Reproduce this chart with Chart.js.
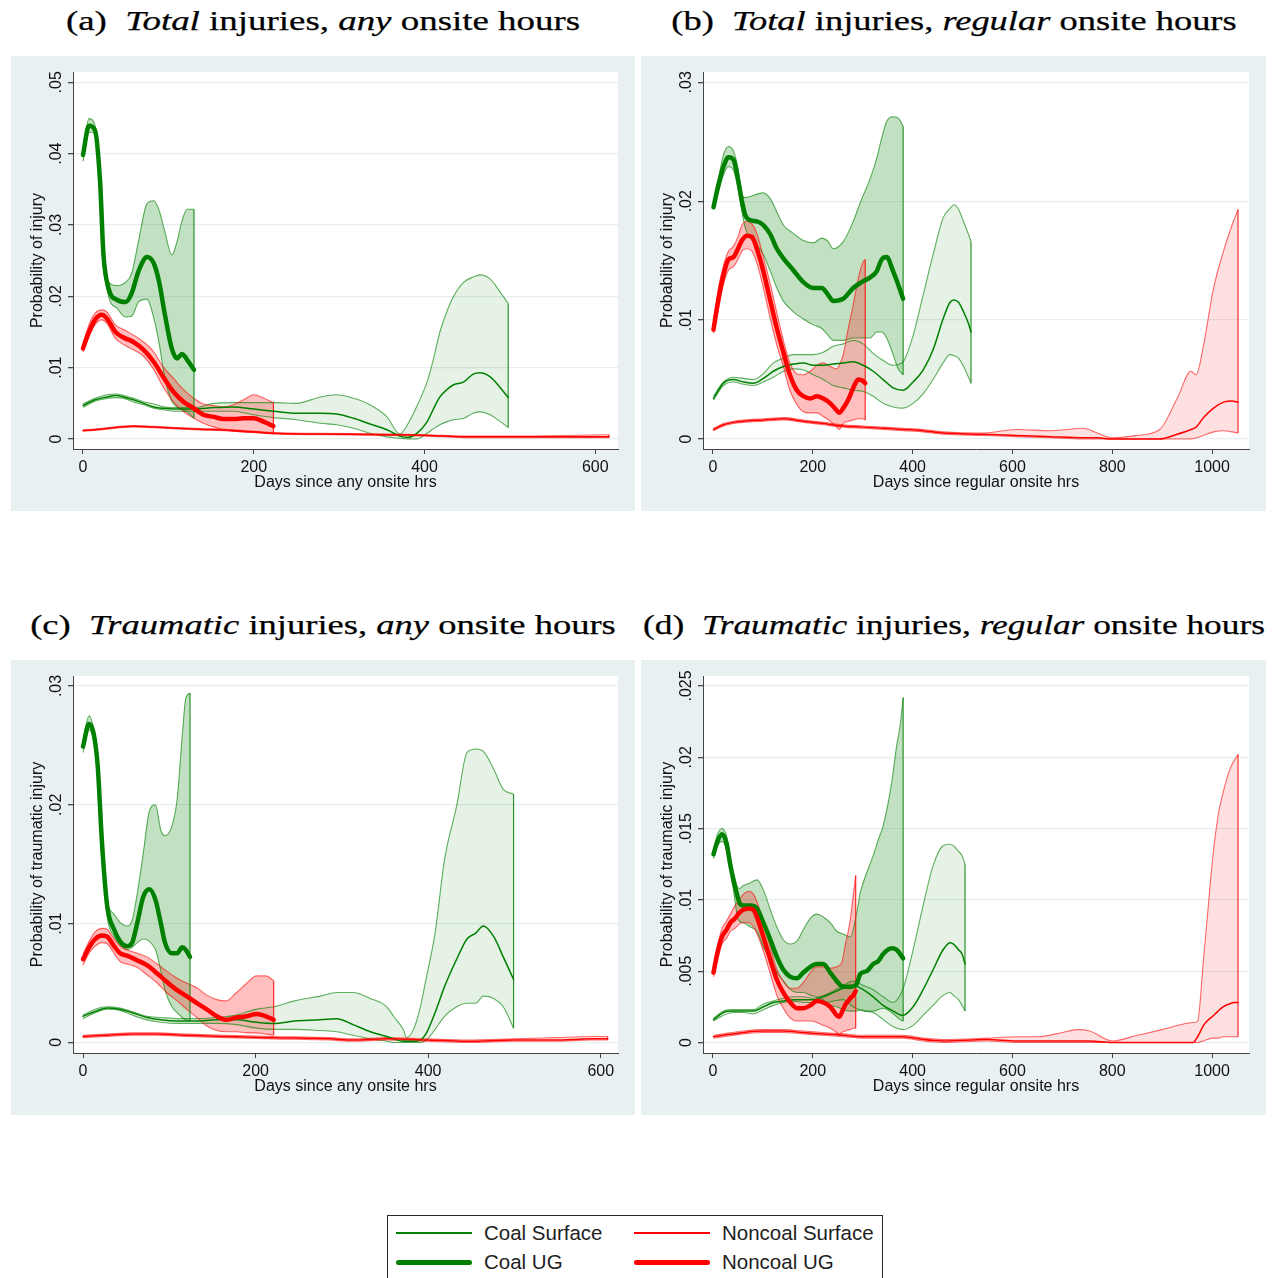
<!DOCTYPE html>
<html>
<head>
<meta charset="utf-8">
<script src="https://cdn.jsdelivr.net/npm/chart.js@4.4.1/dist/chart.umd.min.js"></script>
<style>
  html, body { margin: 0; padding: 0; }
  body { width: 1272px; height: 1278px; background: #ffffff; position: relative; overflow: hidden;
         font-family: 'Liberation Sans', Arial, Helvetica, sans-serif; }
  canvas.panel { position: absolute; background: #e9f0f2; }
  .ttl { position: absolute; white-space: nowrap; color: #000; line-height: 1;
         font-family: 'Liberation Serif', 'Times New Roman', serif; font-size: 28px;
         -webkit-text-stroke: 0.25px #000;
         transform: translate(-50%, -50%); transform-origin: 50% 50%; }
  #legend { position: absolute; left: 387px; top: 1215px; width: 496px; height: 80px;
            border: 1.5px solid #2a2a2a; background: #fff; box-sizing: border-box; }
  #legend .sw { position: absolute; }
  #legend .lab { position: absolute; font-size: 20.5px; color: #1e1e1e; line-height: 1; transform: translateY(-50%); white-space: nowrap; }
</style>
</head>
<body>

<div class="ttl" data-w="514" style="left:323px; top:21px;">(a)&nbsp; <i>Total</i> injuries, <i>any</i> onsite hours</div>
<div class="ttl" data-w="565" style="left:954px; top:21px;">(b)&nbsp; <i>Total</i> injuries, <i>regular</i> onsite hours</div>
<div class="ttl" data-w="586" style="left:323px; top:625px;">(c)&nbsp; <i>Traumatic</i> injuries, <i>any</i> onsite hours</div>
<div class="ttl" data-w="622" style="left:954px; top:625px;">(d)&nbsp; <i>Traumatic</i> injuries, <i>regular</i> onsite hours</div>

<canvas id="chartA" class="panel" width="624" height="455" style="left:11px; top:56px;"></canvas>
<canvas id="chartB" class="panel" width="625" height="455" style="left:641px; top:56px;"></canvas>
<canvas id="chartC" class="panel" width="624" height="455" style="left:11px; top:660px;"></canvas>
<canvas id="chartD" class="panel" width="625" height="455" style="left:641px; top:660px;"></canvas>

<div id="legend"></div>

<script>
// ---------- axis ticks and labels ----------
const xTicksAny = [0, 200, 400, 600];
const xTicksRegular = [0, 200, 400, 600, 800, 1000];
const yTicksA = [0, 0.01, 0.02, 0.03, 0.04, 0.05];
const yTicksB = [0, 0.01, 0.02, 0.03];
const yTicksC = [0, 0.01, 0.02, 0.03];
const yTicksD = [0, 0.005, 0.01, 0.015, 0.02, 0.025];
const xTitleAny = 'Days since any onsite hrs';
const xTitleRegular = 'Days since regular onsite hrs';
const yTitleTotal = 'Probability of injury';
const yTitleTraumatic = 'Probability of traumatic injury';
const seriesNames = ['Coal Surface', 'Coal UG', 'Noncoal Surface', 'Noncoal UG'];

// ---------- (a) total injuries, any onsite hours ----------
const aCoalSurfDays = [0,14,28,38,48,59,71,83,94,106,118,130,153,176,200,223,250,278,297,317,336,356,371,380,391,403,410,418,426,434,446,457,465,477,488,498];
const aCoalSurfMean = [.0047,.0055,.0059,.0061,.0059,.0055,.0050,.0045,.0043,.0042,.0042,.0042,.0044,.0045,.0042,.0039,.0036,.0036,.0035,.0029,.0021,.0013,.0004,.0002,.0008,.0024,.0041,.0059,.0069,.0076,.0080,.0091,.0093,.0087,.0073,.0058];
const aCoalSurfLow  = [.0044,.0053,.0057,.0058,.0057,.0052,.0048,.0043,.0041,.0039,.0039,.0039,.0039,.0039,.0034,.0030,.0027,.0022,.0020,.0015,.0008,.0003,.0001,.0000,.0000,.0008,.0014,.0020,.0024,.0027,.0029,.0036,.0038,.0034,.0025,.0016];
const aCoalSurfHigh = [.0049,.0057,.0062,.0063,.0061,.0057,.0052,.0049,.0045,.0044,.0044,.0044,.0050,.0051,.0051,.0051,.0050,.0059,.0062,.0057,.0048,.0031,.0007,.0020,.0046,.0080,.0110,.0150,.0178,.0200,.0220,.0227,.0230,.0224,.0207,.0190];

const aCoalUGDays = [0,7,14,20,24,30,40,50,57,65,75,83,89,96,104,110,116,122,130];
const aCoalUGMean = [.0398,.0439,.0433,.0361,.0258,.0211,.0195,.0192,.0204,.0235,.0255,.0246,.0221,.0174,.0127,.0113,.0119,.0111,.0097];
const aCoalUGLow  = [.0389,.0430,.0428,.0350,.0249,.0200,.0183,.0171,.0172,.0192,.0196,.0169,.0135,.0085,.0053,.0045,.0041,.0038,.0029];
const aCoalUGHigh = [.0402,.0449,.0440,.0365,.0267,.0220,.0215,.0220,.0232,.0277,.0330,.0334,.0321,.0290,.0258,.0276,.0306,.0322,.0322];

const aNoncoalSurfDays = [0,14,38,59,94,130,176,223,278,356,403,446,500,560,616];
const aNoncoalSurfMean = [.0012,.0013,.0016,.0018,.0016,.0014,.0012,.0008,.0007,.0006,.0005,.0003,.0003,.0003,.0003];
const aNoncoalSurfLow  = [.0011,.0012,.0015,.0017,.0015,.0013,.0011,.0007,.0006,.0005,.0004,.0002,.0002,.0002,.0002];
const aNoncoalSurfHigh = [.0013,.0014,.0017,.0019,.0017,.0015,.0013,.0009,.0008,.0007,.0006,.0004,.0004,.0005,.0006];

const aNoncoalUGDays = [0,7,14,22,28,38,48,59,71,83,94,106,118,130,141,153,165,176,188,200,212,223];
const aNoncoalUGMean = [.0127,.0150,.0167,.0174,.0169,.0150,.0142,.0136,.0125,.0108,.0087,.0066,.0052,.0043,.0034,.0031,.0028,.0028,.0029,.0029,.0024,.0018];
const aNoncoalUGLow  = [.0122,.0143,.0160,.0167,.0162,.0141,.0132,.0125,.0116,.0097,.0073,.0052,.0038,.0029,.0022,.0017,.0013,.0011,.0010,.0010,.0009,.0007];
const aNoncoalUGHigh = [.0134,.0160,.0176,.0181,.0178,.0160,.0153,.0146,.0136,.0122,.0101,.0085,.0069,.0057,.0049,.0047,.0045,.0048,.0055,.0062,.0057,.0051];

// ---------- (b) total injuries, regular onsite hours ----------
const bCoalSurfDays = [1,21,41,61,81,101,121,141,161,181,201,221,241,261,281,301,321,341,361,381,401,421,441,461,475,483,492,502,512,517];
const bCoalSurfMean = [.0034,.0047,.0050,.0048,.0047,.0051,.0057,.0061,.0063,.0064,.0062,.0062,.0063,.0064,.0065,.0062,.0057,.0050,.0043,.0041,.0048,.0058,.0075,.0101,.0115,.0117,.0115,.0107,.0097,.0090];
const bCoalSurfLow  = [.0033,.0045,.0048,.0046,.0045,.0048,.0052,.0057,.0059,.0058,.0054,.0050,.0045,.0043,.0041,.0040,.0036,.0030,.0027,.0026,.0030,.0038,.0050,.0064,.0071,.0070,.0068,.0061,.0052,.0047];
const bCoalSurfHigh = [.0036,.0048,.0052,.0051,.0050,.0055,.0064,.0068,.0071,.0071,.0071,.0073,.0078,.0080,.0083,.0080,.0072,.0066,.0062,.0065,.0087,.0121,.0155,.0186,.0194,.0197,.0193,.0183,.0172,.0166];

const bCoalUGDays = [1,11,21,31,41,50,58,65,75,88,101,115,128,141,161,181,201,218,231,241,261,281,298,315,328,338,348,361,371,381];
const bCoalUGMean = [.0195,.0214,.0229,.0237,.0235,.0219,.0200,.0188,.0184,.0183,.0180,.0172,.0160,.0152,.0142,.0132,.0127,.0127,.0121,.0116,.0118,.0127,.0132,.0136,.0141,.0151,.0153,.0141,.0130,.0118];
const bCoalUGLow  = [.0193,.0208,.0222,.0229,.0226,.0211,.0191,.0177,.0169,.0163,.0155,.0141,.0127,.0116,.0107,.0101,.0096,.0093,.0087,.0083,.0083,.0085,.0085,.0085,.0090,.0090,.0085,.0071,.0059,.0054];
const bCoalUGHigh = [.0198,.0219,.0239,.0246,.0242,.0228,.0205,.0203,.0204,.0206,.0207,.0202,.0191,.0180,.0173,.0167,.0165,.0169,.0166,.0160,.0166,.0183,.0202,.0219,.0236,.0253,.0267,.0271,.0270,.0263];

const bNoncoalSurfDays = [1,21,41,61,101,141,181,221,261,301,341,381,421,461,542,608,675,742,770,800,850,895,930,958,968,983,1003,1023,1040,1052];
const bNoncoalSurfMean = [.0008,.0012,.0014,.0015,.0016,.0017,.0015,.0013,.0011,.0010,.0009,.0008,.0007,.0005,.0004,.0003,.0002,.0001,.0001,0,0,0,.0004,.0008,.0010,.0018,.0026,.0031,.0032,.0031];
const bNoncoalSurfLow  = [.0007,.0011,.0013,.0014,.0015,.0016,.0014,.0012,.0010,.0009,.0008,.0007,.0006,.0004,.0003,.0002,.0001,0,0,0,0,0,0,0,.0001,.0003,.0006,.0007,.0006,.0005];
const bNoncoalSurfHigh = [.0009,.0013,.0015,.0016,.0017,.0018,.0016,.0014,.0012,.0011,.0010,.0009,.0008,.0006,.0005,.0008,.0007,.0009,.0005,.0001,.0003,.0008,.0034,.0057,.0054,.0079,.0127,.0158,.0180,.0193];

const bNoncoalUGDays = [1,11,21,31,41,50,58,68,78,88,101,115,128,141,154,168,181,195,208,221,235,248,253,261,271,281,291,300,305];
const bNoncoalUGMean = [.0092,.0118,.0138,.0151,.0153,.0160,.0167,.0171,.0170,.0160,.0141,.0116,.0093,.0073,.0054,.0041,.0036,.0034,.0036,.0034,.0030,.0024,.0022,.0026,.0033,.0043,.0050,.0049,.0047];
const bNoncoalUGLow  = [.0089,.0110,.0130,.0142,.0145,.0151,.0158,.0160,.0158,.0148,.0127,.0101,.0079,.0061,.0041,.0029,.0023,.0022,.0022,.0019,.0015,.0010,.0008,.0013,.0015,.0016,.0017,.0017,.0016];
const bNoncoalUGHigh = [.0094,.0127,.0146,.0158,.0162,.0170,.0180,.0183,.0181,.0173,.0153,.0130,.0106,.0083,.0064,.0055,.0054,.0057,.0062,.0064,.0061,.0059,.0062,.0071,.0093,.0113,.0135,.0148,.0151];

// ---------- (c) traumatic injuries, any onsite hours ----------
const cCoalSurfDays = [0,14,28,43,57,74,90,109,130,155,178,201,221,245,275,294,313,333,352,360,371,375,383,391,398,408,419,433,445,455,464,476,487,499];
const cCoalSurfMean = [.0022,.0026,.0029,.0028,.0025,.0021,.0019,.0018,.0018,.0019,.0019,.0017,.0016,.0018,.0019,.0020,.0015,.0009,.0005,.0003,.0001,.0001,.0001,.0002,.0008,.0025,.0047,.0070,.0087,.0092,.0098,.0089,.0072,.0053];
const cCoalSurfLow  = [.0020,.0025,.0028,.0027,.0023,.0019,.0017,.0016,.0016,.0016,.0015,.0012,.0011,.0011,.0010,.0009,.0006,.0003,.0001,0,0,0,0,0,.0002,.0011,.0022,.0030,.0033,.0033,.0039,.0037,.0030,.0012];
const cCoalSurfHigh = [.0023,.0028,.0030,.0029,.0026,.0022,.0021,.0020,.0020,.0021,.0023,.0028,.0030,.0035,.0039,.0042,.0042,.0037,.0030,.0022,.0011,.0004,.0011,.0030,.0055,.0092,.0154,.0199,.0244,.0247,.0245,.0230,.0213,.0209];

const cCoalUGDays = [0,7,12,17,22,28,36,43,51,57,63,70,77,84,90,95,103,109,115,119,124];
const cCoalUGMean = [.0249,.0268,.0261,.0233,.0168,.0115,.0095,.0085,.0081,.0084,.0101,.0123,.0129,.0120,.0101,.0084,.0075,.0075,.0080,.0078,.0072];
const cCoalUGLow  = [.0244,.0263,.0256,.0227,.0160,.0106,.0089,.0082,.0078,.0080,.0084,.0087,.0085,.0078,.0061,.0044,.0030,.0025,.0021,.0019,.0018];
const cCoalUGHigh = [.0254,.0275,.0265,.0238,.0176,.0120,.0108,.0101,.0098,.0103,.0126,.0160,.0195,.0200,.0179,.0174,.0182,.0204,.0258,.0289,.0294];

const cNoncoalSurfDays = [0,28,57,86,120,166,221,286,313,352,398,445,499,545,590,608];
const cNoncoalSurfMean = [.0005,.0006,.0007,.0007,.0006,.0005,.0004,.0003,.0002,.0003,.0002,.0001,.0002,.0002,.0003,.0003];
const cNoncoalSurfLow  = [.0004,.0005,.0006,.0006,.0005,.0004,.0003,.0002,.0001,.0002,.0001,.0000,.0001,.0001,.0002,.0002];
const cNoncoalSurfHigh = [.0006,.0007,.0008,.0008,.0007,.0006,.0005,.0004,.0003,.0004,.0003,.0002,.0003,.0004,.0005,.0005];

const cNoncoalUGDays = [0,7,14,22,28,36,43,51,63,74,86,97,109,120,132,143,155,166,178,190,201,212,221];
const cNoncoalUGMean = [.0070,.0080,.0087,.0090,.0089,.0081,.0075,.0073,.0069,.0065,.0058,.0051,.0044,.0039,.0033,.0028,.0022,.0019,.0021,.0022,.0024,.0022,.0019];
const cNoncoalUGLow  = [.0065,.0075,.0081,.0084,.0083,.0075,.0068,.0066,.0063,.0057,.0050,.0042,.0035,.0028,.0021,.0014,.0010,.0009,.0009,.0008,.0008,.0007,.0006];
const cNoncoalUGHigh = [.0074,.0085,.0093,.0096,.0095,.0087,.0081,.0078,.0075,.0072,.0066,.0060,.0054,.0050,.0046,.0040,.0036,.0035,.0042,.0050,.0056,.0056,.0052];

// ---------- (d) traumatic injuries, regular onsite hours ----------
const dCoalSurfDays = [1,21,41,61,81,101,121,141,161,181,201,221,241,261,281,301,321,341,361,381,401,421,441,461,475,482,492,499,505];
const dCoalSurfMean = [.0016,.0021,.0022,.0022,.0022,.0025,.0028,.0029,.0030,.0030,.0030,.0032,.0035,.0038,.0040,.0037,.0032,.0026,.0022,.0019,.0025,.0037,.0051,.0065,.0070,.0069,.0065,.0062,.0055];
const dCoalSurfLow  = [.0015,.0019,.0021,.0021,.0020,.0023,.0026,.0028,.0029,.0028,.0028,.0028,.0029,.0030,.0025,.0022,.0021,.0016,.0011,.0009,.0012,.0019,.0026,.0033,.0035,.0033,.0030,.0026,.0022];
const dCoalSurfHigh = [.0017,.0022,.0023,.0023,.0023,.0027,.0029,.0031,.0032,.0032,.0031,.0033,.0036,.0040,.0043,.0040,.0037,.0032,.0028,.0038,.0065,.0096,.0124,.0138,.0139,.0138,.0134,.0131,.0125];

const dCoalUGDays = [1,9,18,27,35,41,48,53,61,75,88,101,115,128,141,155,168,181,195,208,221,235,248,261,275,288,295,308,321,331,341,358,368,375,381];
const dCoalUGMean = [.0132,.0141,.0146,.0140,.0124,.0114,.0104,.0098,.0096,.0096,.0094,.0084,.0072,.0060,.0051,.0046,.0045,.0049,.0053,.0055,.0055,.0049,.0043,.0039,.0039,.0041,.0048,.0050,.0055,.0057,.0062,.0066,.0065,.0062,.0059];
const dCoalUGLow  = [.0129,.0138,.0141,.0135,.0119,.0107,.0090,.0085,.0084,.0081,.0078,.0067,.0058,.0049,.0043,.0037,.0035,.0035,.0033,.0032,.0030,.0026,.0025,.0023,.0022,.0022,.0023,.0022,.0022,.0023,.0024,.0021,.0018,.0016,.0015];
const dCoalUGHigh = [.0135,.0146,.0150,.0145,.0129,.0119,.0110,.0108,.0110,.0112,.0114,.0107,.0093,.0081,.0072,.0069,.0071,.0079,.0087,.0090,.0088,.0084,.0078,.0076,.0074,.0091,.0105,.0119,.0131,.0142,.0152,.0182,.0208,.0222,.0242];

const dNoncoalSurfDays = [1,21,61,101,141,181,221,261,301,341,381,421,461,550,608,650,700,730,755,800,850,900,962,971,983,990,1000,1012,1022,1035,1045,1052];
const dNoncoalSurfMean = [.0004,.0005,.0007,.0008,.0008,.0007,.0006,.0005,.0004,.0004,.0004,.0002,.0001,.0002,.0001,.0001,.0001,.0001,.0001,0,0,0,0,.0004,.0012,.0015,.0018,.0022,.0025,.0027,.0028,.0028];
const dNoncoalSurfLow  = [.0003,.0004,.0006,.0007,.0007,.0006,.0005,.0004,.0003,.0003,.0003,.0001,0,.0001,0,0,0,0,0,0,0,0,0,0,.0001,.0002,.0003,.0003,.0004,.0004,.0004,.0004];
const dNoncoalSurfHigh = [.0005,.0006,.0008,.0009,.0009,.0008,.0007,.0006,.0005,.0005,.0005,.0003,.0002,.0003,.0004,.0004,.0007,.0009,.0008,.0001,.0005,.0009,.0014,.0015,.0059,.0086,.0125,.0159,.0175,.0191,.0198,.0202];

const dNoncoalUGDays = [1,9,18,27,35,44,53,61,72,81,91,101,115,128,141,155,168,181,195,208,221,235,248,253,258,266,271,275,281,286];
const dNoncoalUGMean = [.0049,.0063,.0074,.0079,.0084,.0087,.0091,.0093,.0094,.0093,.0085,.0074,.0058,.0044,.0035,.0028,.0024,.0024,.0026,.0029,.0028,.0025,.0019,.0018,.0021,.0027,.0029,.0031,.0033,.0036];
const dNoncoalUGLow  = [.0046,.0058,.0069,.0073,.0078,.0080,.0083,.0084,.0084,.0081,.0074,.0064,.0048,.0033,.0024,.0017,.0015,.0015,.0015,.0014,.0012,.0010,.0007,.0005,.0007,.0008,.0009,.0009,.0010,.0010];
const dNoncoalUGHigh = [.0051,.0067,.0080,.0085,.0090,.0096,.0100,.0104,.0106,.0104,.0096,.0084,.0067,.0051,.0043,.0038,.0038,.0042,.0049,.0053,.0053,.0052,.0053,.0054,.0056,.0070,.0078,.0086,.0103,.0117];

// ---------- styling ----------
const GREEN = '#008000';
const RED = '#ff0000';
const seriesStyle = {
  coalSurf:    { line: GREEN, width: 1.5, fill: 'rgba(0,128,0,0.10)',  edge: 'rgba(0,128,0,0.62)', end: 'rgba(0,128,0,0.9)' },
  coalUG:      { line: GREEN, width: 4.5, fill: 'rgba(0,128,0,0.24)',  edge: 'rgba(0,128,0,0.62)', end: 'rgba(0,128,0,0.9)' },
  noncoalSurf: { line: RED,   width: 1.5, fill: 'rgba(255,0,0,0.12)',  edge: 'rgba(255,0,0,0.58)', end: 'rgba(255,0,0,0.9)' },
  noncoalUG:   { line: RED,   width: 4.5, fill: 'rgba(255,0,0,0.25)',  edge: 'rgba(255,0,0,0.58)', end: 'rgba(255,0,0,0.9)' }
};
// first key is drawn on top
const drawOrder = ['noncoalUG', 'coalUG', 'noncoalSurf', 'coalSurf'];

const points = (days, vals) => days.map((d, i) => ({ x: d, y: vals[i] }));
const fmtProb = v => (v === 0 ? '0' : String(+v.toFixed(3)).replace(/^0/, ''));

function buildDatasets(series) {
  const means = [], ends = [], bands = [];
  const bandBase = drawOrder.length * 2;
  drawOrder.forEach((key, k) => {
    const [days, mean, low, high] = series[key];
    const st = seriesStyle[key];
    means.push({
      data: points(days, mean), borderColor: st.line, borderWidth: st.width,
      fill: false, pointRadius: 0, cubicInterpolationMode: 'monotone',
      borderJoinStyle: 'round', borderCapStyle: 'round'
    });
    const last = days.length - 1;
    ends.push({
      data: [{ x: days[last], y: low[last] }, { x: days[last], y: high[last] }],
      borderColor: st.end, borderWidth: 1.1, fill: false, pointRadius: 0, tension: 0
    });
    const hiIndex = bandBase + k * 2;
    bands.push({
      data: points(days, high), borderColor: st.edge, borderWidth: 1.1,
      backgroundColor: st.fill, fill: hiIndex + 1, pointRadius: 0,
      cubicInterpolationMode: 'monotone'
    });
    bands.push({
      data: points(days, low), borderColor: st.edge, borderWidth: 1.1,
      fill: false, pointRadius: 0, cubicInterpolationMode: 'monotone'
    });
  });
  return means.concat(ends, bands);
}

// plot region background, rotated y labels and axis titles
const panelText = {
  id: 'panelText',
  beforeDraw(chart) {
    const { ctx, chartArea: a } = chart;
    ctx.save();
    ctx.fillStyle = '#ffffff';
    ctx.fillRect(a.left, a.top, a.right - a.left, a.bottom - a.top);
    ctx.restore();
  },
  afterDraw(chart, args, opts) {
    const { ctx, chartArea: a } = chart;
    const y = chart.scales.y;
    ctx.save();
    ctx.fillStyle = '#111';
    ctx.font = "16px 'Liberation Sans', Arial, Helvetica, sans-serif";
    y.ticks.forEach(t => {
      const py = y.getPixelForValue(t.value);
      ctx.save();
      ctx.translate(a.left - 12.5, py);
      ctx.rotate(-Math.PI / 2);
      ctx.textAlign = 'center';
      ctx.textBaseline = 'alphabetic';
      ctx.fillText(fmtProb(t.value), 0, 0);
      ctx.restore();
    });
    ctx.save();
    ctx.translate(a.left - 35.5, (a.top + a.bottom) / 2);
    ctx.rotate(-Math.PI / 2);
    ctx.textAlign = 'center';
    ctx.textBaseline = 'middle';
    ctx.fillText(opts.yTitle, 0, 0);
    ctx.restore();
    ctx.textAlign = 'center';
    ctx.textBaseline = 'middle';
    ctx.fillText(opts.xTitle, (a.left + a.right) / 2, a.bottom + 33.5);
    ctx.restore();
  }
};

const panelDefs = [
  { canvas: 'chartA', xMin: -11.7, xMax: 626.6, xTicks: xTicksAny, yMin: -0.0014, yMax: 0.05144, yTicks: yTicksA,
    xTitle: xTitleAny, yTitle: yTitleTotal,
    series: { coalSurf: [aCoalSurfDays, aCoalSurfMean, aCoalSurfLow, aCoalSurfHigh],
              coalUG: [aCoalUGDays, aCoalUGMean, aCoalUGLow, aCoalUGHigh],
              noncoalSurf: [aNoncoalSurfDays, aNoncoalSurfMean, aNoncoalSurfLow, aNoncoalSurfHigh],
              noncoalUG: [aNoncoalUGDays, aNoncoalUGMean, aNoncoalUGLow, aNoncoalUGHigh] } },
  { canvas: 'chartB', xMin: -20, xMax: 1074, xTicks: xTicksRegular, yMin: -0.00084, yMax: 0.03087, yTicks: yTicksB,
    xTitle: xTitleRegular, yTitle: yTitleTotal,
    series: { coalSurf: [bCoalSurfDays, bCoalSurfMean, bCoalSurfLow, bCoalSurfHigh],
              coalUG: [bCoalUGDays, bCoalUGMean, bCoalUGLow, bCoalUGHigh],
              noncoalSurf: [bNoncoalSurfDays, bNoncoalSurfMean, bNoncoalSurfLow, bNoncoalSurfHigh],
              noncoalUG: [bNoncoalUGDays, bNoncoalUGMean, bNoncoalUGLow, bNoncoalUGHigh] } },
  { canvas: 'chartC', xMin: -11.6, xMax: 620, xTicks: xTicksAny, yMin: -0.00089, yMax: 0.03084, yTicks: yTicksC,
    xTitle: xTitleAny, yTitle: yTitleTraumatic,
    series: { coalSurf: [cCoalSurfDays, cCoalSurfMean, cCoalSurfLow, cCoalSurfHigh],
              coalUG: [cCoalUGDays, cCoalUGMean, cCoalUGLow, cCoalUGHigh],
              noncoalSurf: [cNoncoalSurfDays, cNoncoalSurfMean, cNoncoalSurfLow, cNoncoalSurfHigh],
              noncoalUG: [cNoncoalUGDays, cNoncoalUGMean, cNoncoalUGLow, cNoncoalUGHigh] } },
  { canvas: 'chartD', xMin: -20, xMax: 1074, xTicks: xTicksRegular, yMin: -0.00074, yMax: 0.0257, yTicks: yTicksD,
    xTitle: xTitleRegular, yTitle: yTitleTraumatic,
    series: { coalSurf: [dCoalSurfDays, dCoalSurfMean, dCoalSurfLow, dCoalSurfHigh],
              coalUG: [dCoalUGDays, dCoalUGMean, dCoalUGLow, dCoalUGHigh],
              noncoalSurf: [dNoncoalSurfDays, dNoncoalSurfMean, dNoncoalSurfLow, dNoncoalSurfHigh],
              noncoalUG: [dNoncoalUGDays, dNoncoalUGMean, dNoncoalUGLow, dNoncoalUGHigh] } }
];

Chart.defaults.font.family = "'Liberation Sans', Arial, Helvetica, sans-serif";
Chart.defaults.font.size = 16;
Chart.defaults.color = '#111';

panelDefs.forEach(p => {
  const canvas = document.getElementById(p.canvas);
  new Chart(canvas.getContext('2d'), {
    type: 'line',
    data: { datasets: buildDatasets(p.series) },
    plugins: [panelText],
    options: {
      responsive: false,
      maintainAspectRatio: false,
      animation: false,
      devicePixelRatio: 1,
      events: [],
      layout: { padding: { left: 0, top: 16, right: canvas.width - 62 - (canvas.width === 625 ? 546 : 545), bottom: 0 } },
      plugins: {
        legend: { display: false },
        tooltip: { enabled: false },
        filler: { drawTime: 'beforeDatasetsDraw' },
        panelText: { xTitle: p.xTitle, yTitle: p.yTitle }
      },
      scales: {
        x: {
          type: 'linear', bounds: 'data', min: p.xMin, max: p.xMax,
          afterBuildTicks: s => { s.ticks = p.xTicks.map(v => ({ value: v })); },
          afterFit: s => { s.height = 62; },
          ticks: { padding: 4, color: '#111', font: { size: 16 }, maxRotation: 0, autoSkip: false,
                   callback: v => String(v) },
          grid: { drawOnChartArea: false, drawTicks: true, tickLength: 5, tickColor: '#444', lineWidth: 1 },
          border: { display: true, color: '#444', width: 1 }
        },
        y: {
          type: 'linear', bounds: 'data', min: p.yMin, max: p.yMax,
          afterBuildTicks: s => { s.ticks = p.yTicks.map(v => ({ value: v })); },
          afterFit: s => { s.width = 62; },
          ticks: { display: false },
          grid: { color: '#e6eef1', lineWidth: 1.3, drawTicks: true, tickLength: 5, tickColor: '#444' },
          border: { display: true, color: '#444', width: 1 }
        }
      }
    }
  });
});

// ---------- legend ----------
(function buildLegend() {
  const box = document.getElementById('legend');
  const cols = [{ line: 8, text: 96 }, { line: 246, text: 334 }];
  const rows = [17, 46];
  const entries = [
    { name: seriesNames[0], key: 'coalSurf', col: 0, row: 0 },
    { name: seriesNames[1], key: 'coalUG', col: 0, row: 1 },
    { name: seriesNames[2], key: 'noncoalSurf', col: 1, row: 0 },
    { name: seriesNames[3], key: 'noncoalUG', col: 1, row: 1 }
  ];
  entries.forEach(e => {
    const st = seriesStyle[e.key];
    const thick = st.width > 2;
    const h = thick ? 5 : 2;
    const sw = document.createElement('div');
    sw.className = 'sw';
    sw.style.left = cols[e.col].line + 'px';
    sw.style.width = '76px';
    sw.style.top = (rows[e.row] - h / 2) + 'px';
    sw.style.height = h + 'px';
    sw.style.background = st.line;
    if (thick) sw.style.borderRadius = '3px';
    box.appendChild(sw);
    const lab = document.createElement('div');
    lab.className = 'lab';
    lab.style.left = cols[e.col].text + 'px';
    lab.style.top = rows[e.row] + 'px';
    lab.textContent = e.name;
    box.appendChild(lab);
  });
})();

// ---------- panel titles: stretch to their column width ----------
document.querySelectorAll('.ttl').forEach(el => {
  const target = +el.dataset.w;
  const w = el.offsetWidth;
  el.style.transform = 'translate(-50%, -50%) scaleX(' + (target / w).toFixed(4) + ')';
});
</script>
</body>
</html>
